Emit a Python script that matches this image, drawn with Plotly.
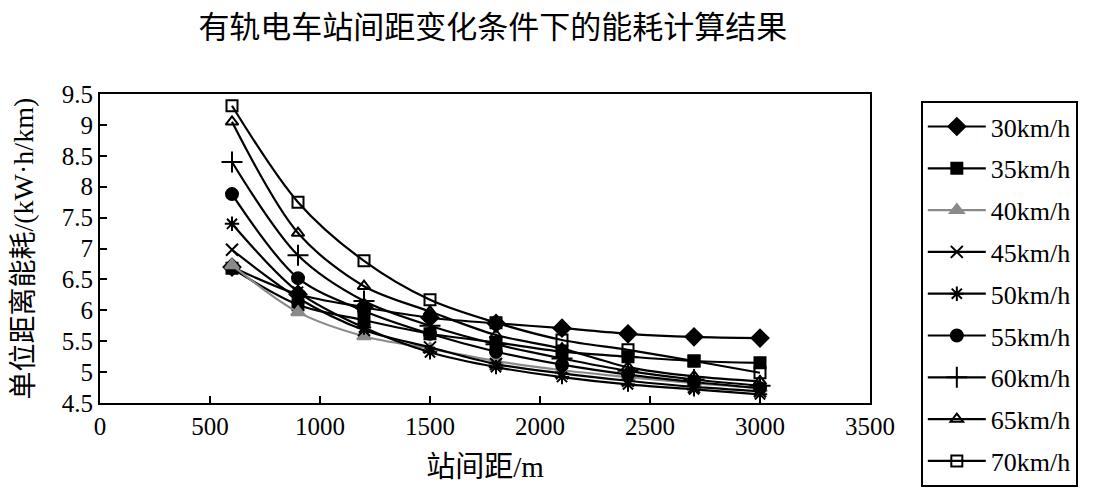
import plotly.graph_objects as go

# Station spacing (m)
spacing = [600, 900, 1200, 1500, 1800, 2100, 2400, 2700, 3000]

# Energy consumption per unit distance (kW·h/km) for each speed
v30 = [6.70, 6.26, 6.05, 5.88, 5.79, 5.71, 5.62, 5.57, 5.55]
v35 = [6.68, 6.09, 5.84, 5.62, 5.48, 5.33, 5.25, 5.18, 5.15]
v40 = [6.73, 5.97, 5.58, 5.38, 5.18, 5.03, 4.92, 4.82, 4.74]
v45 = [6.98, 6.20, 5.68, 5.40, 5.13, 4.98, 4.86, 4.76, 4.69]
v50 = [7.40, 6.30, 5.72, 5.32, 5.08, 4.92, 4.80, 4.72, 4.64]
v55 = [7.88, 6.52, 5.99, 5.62, 5.33, 5.12, 4.96, 4.84, 4.74]
v60 = [8.40, 6.89, 6.15, 5.75, 5.45, 5.22, 5.02, 4.88, 4.78]
v65 = [9.05, 7.25, 6.39, 5.98, 5.60, 5.38, 5.08, 4.93, 4.85]
v70 = [9.31, 7.75, 6.80, 6.17, 5.80, 5.52, 5.36, 5.18, 4.99]

names = ["30km/h", "35km/h", "40km/h", "45km/h", "50km/h",
         "55km/h", "60km/h", "65km/h", "70km/h"]
series = [v30, v35, v40, v45, v50, v55, v60, v65, v70]

title_text = "有轨电车站间距变化条件下的能耗计算结果"
x_title = "站间距/m"
y_title = "单位距离能耗/(kW·h/km)"

symbols = ["diamond", "square", "triangle-up", "x-thin-open", "asterisk-open",
           "circle", "cross-thin-open", "triangle-up-open", "square-open"]
colors = ["#000000", "#000000", "#8a8a8a", "#000000", "#000000",
          "#000000", "#000000", "#000000", "#000000"]
sizes = [13, 11, 12, 12, 12, 12, 15, 11, 11]

fig = go.Figure()
for i, (nm, ys) in enumerate(zip(names, series)):
    fig.add_trace(go.Scatter(
        x=spacing, y=ys, name=nm, mode="lines+markers",
        legendgroup=nm,
        line=dict(color=colors[i], width=2.2, shape="spline", smoothing=0.9),
        marker=dict(symbol=symbols[i], size=sizes[i], color=colors[i],
                    line=dict(color=colors[i], width=2)),
    ))

serif = "Liberation Serif, Noto Sans CJK SC, serif"
fig.update_layout(
    width=1102, height=485,
    paper_bgcolor="white", plot_bgcolor="white",
    margin=dict(l=92, r=240, t=86, b=90, autoexpand=False),
    font=dict(family=serif, size=24, color="black"),
    title=dict(text=title_text, x=0.44, xref="container", xanchor="center",
               y=0.96, yref="container", yanchor="middle",
               font=dict(family="Noto Sans CJK SC", size=31, color="black")),
    xaxis=dict(range=[0, 3500], dtick=500, tick0=0, showgrid=False, zeroline=False,
               showline=True, linecolor="black", linewidth=2, mirror=True,
               ticks="inside", ticklen=7, tickwidth=1.5, tickcolor="black",
               automargin=False,
               tickfont=dict(family=serif, size=25),
               title=dict(text=x_title, standoff=18,
                          font=dict(family=serif, size=29))),
    yaxis=dict(range=[4.5, 9.5], dtick=0.5, tick0=4.5, showgrid=False, zeroline=False,
               showline=True, linecolor="black", linewidth=2, mirror=True,
               ticks="inside", ticklen=7, tickwidth=1.5, tickcolor="black",
               automargin=False,
               tickfont=dict(family=serif, size=25)),
    legend=dict(x=1.066, y=0.977, xanchor="left", yanchor="top",
                bordercolor="black", borderwidth=2, bgcolor="white",
                traceorder="grouped", tracegroupgap=5, itemwidth=58,
                maxheight=420,
                font=dict(family=serif, size=26)),
    annotations=[dict(text=y_title, xref="paper", yref="paper", x=0, y=0.5,
                      xshift=-77, textangle=-90, showarrow=False,
                      xanchor="center", yanchor="middle",
                      font=dict(family=serif, size=28, color="black"))],
)

fig.write_html("out.html")
